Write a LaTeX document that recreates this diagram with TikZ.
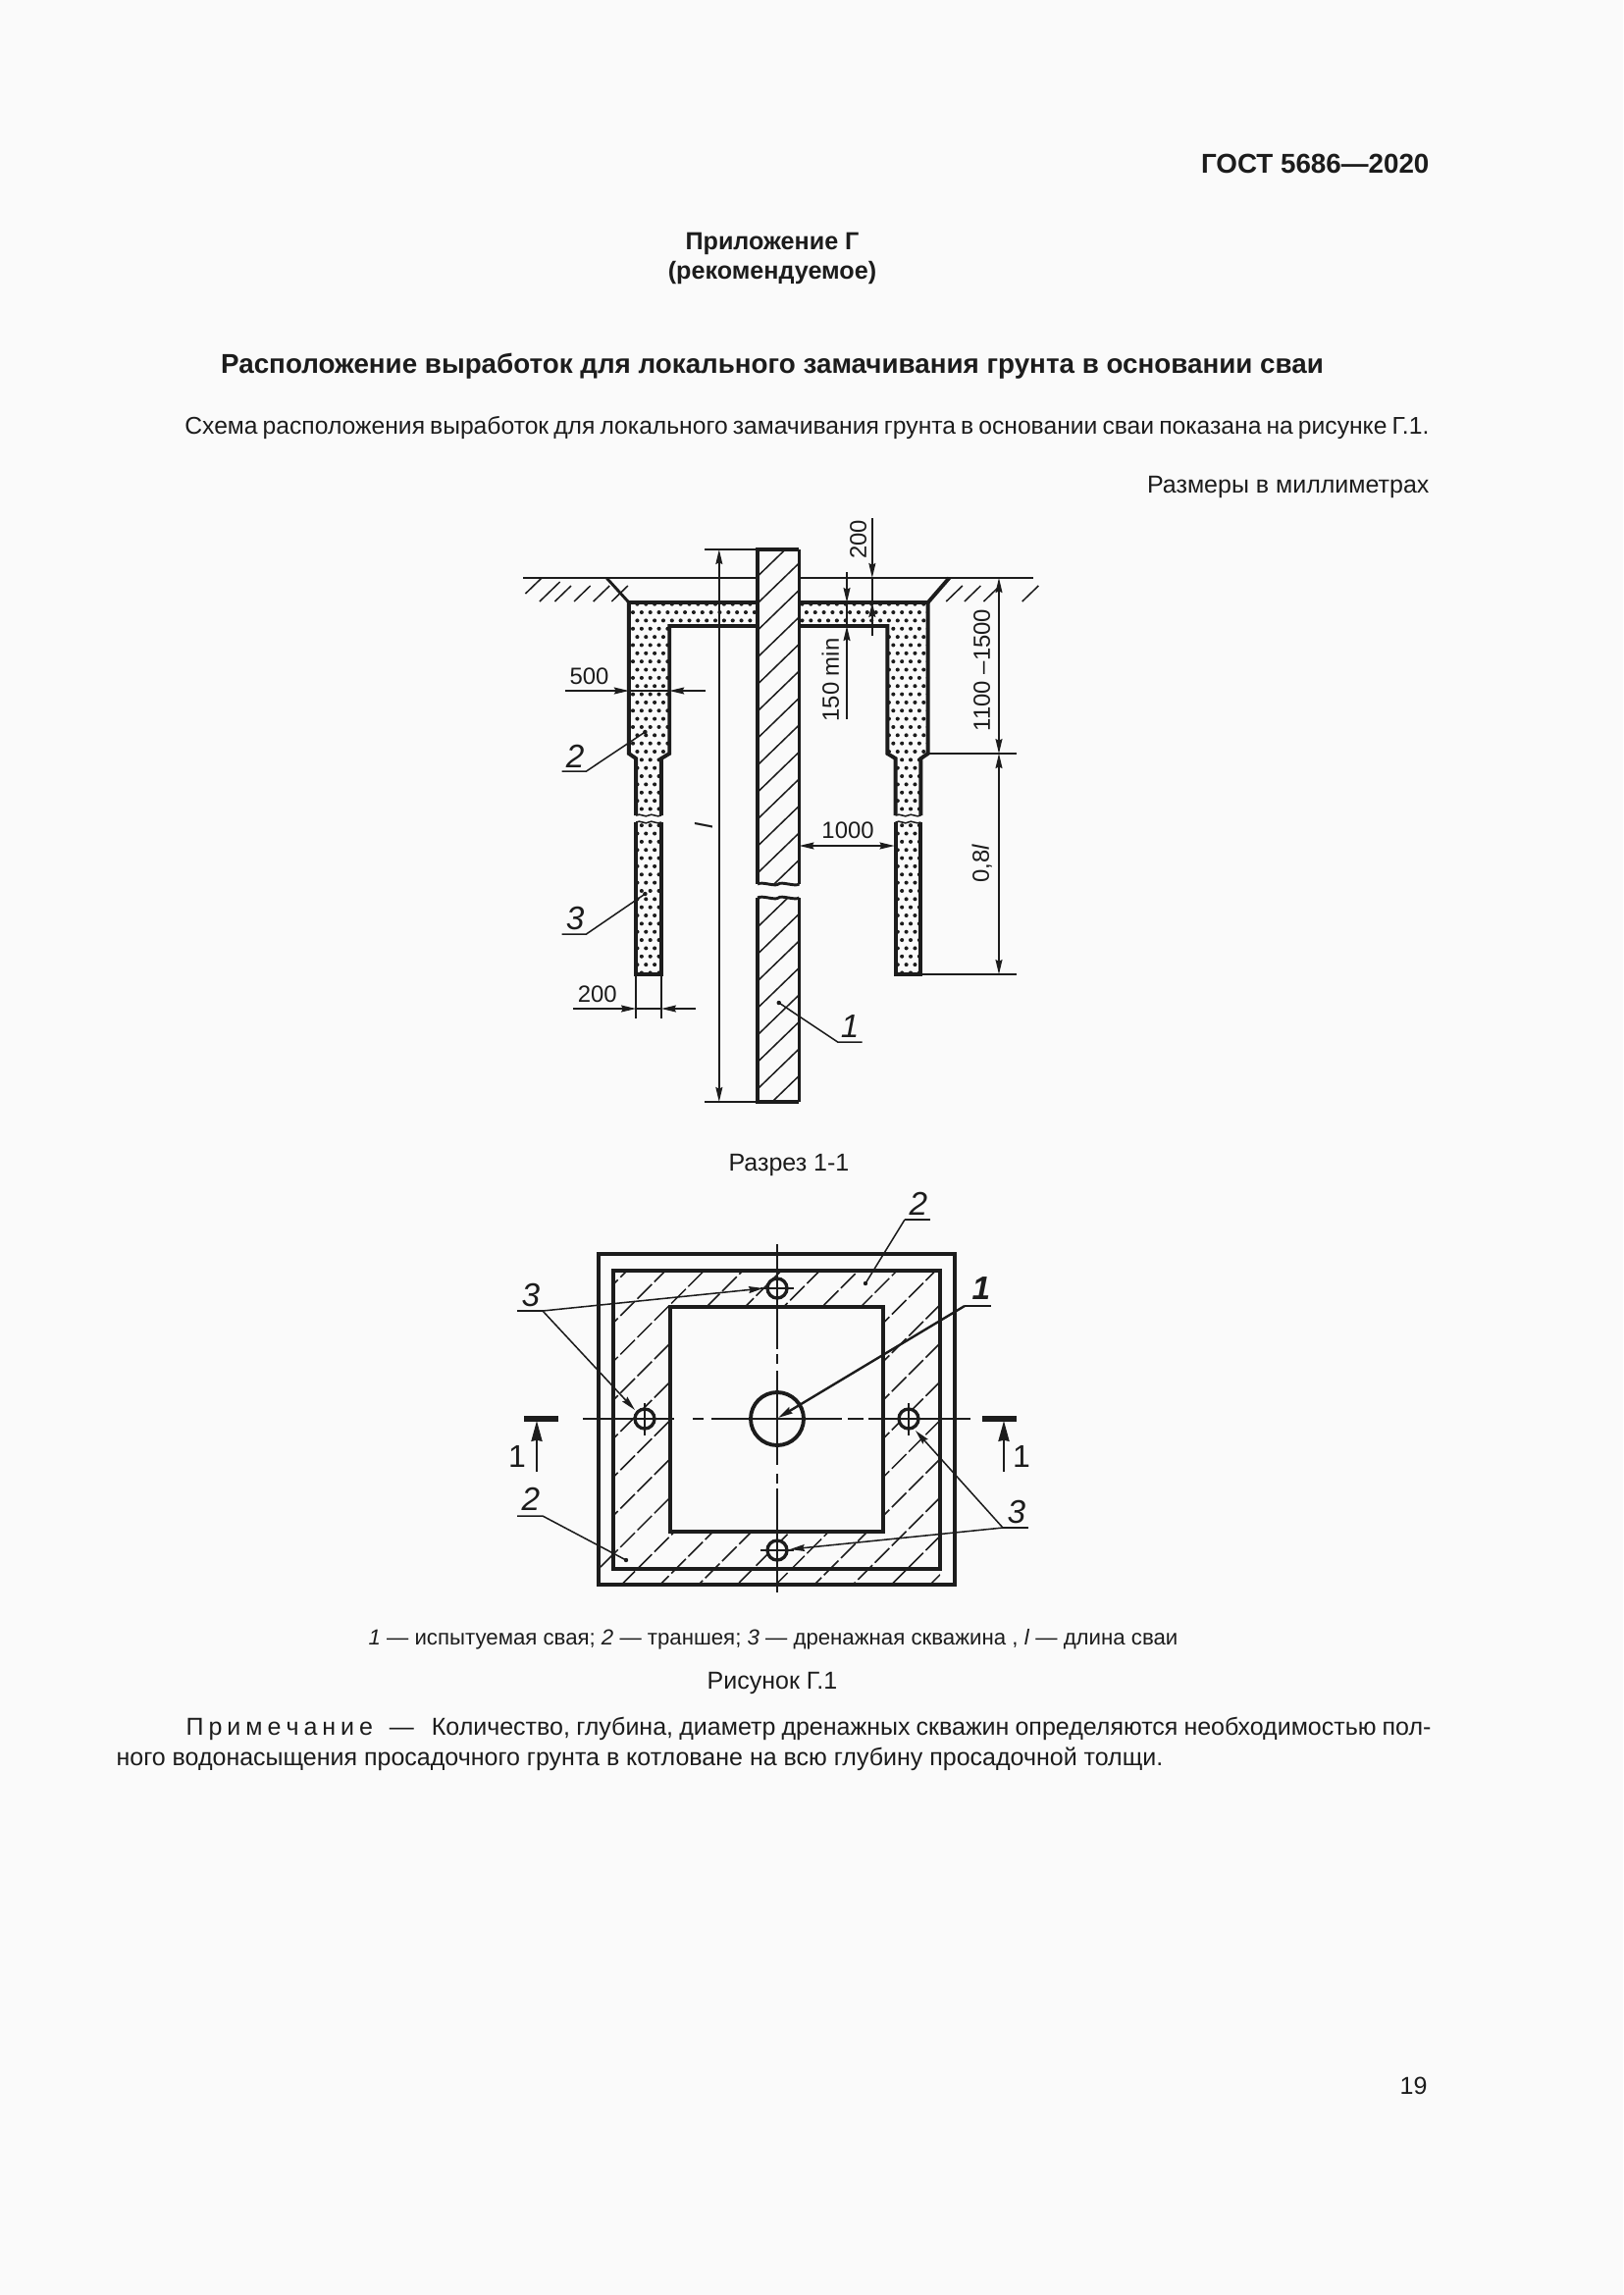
\documentclass[tikz,border=0pt]{standalone}
\usepackage{fontspec}
\setmainfont{Liberation Sans}
\usetikzlibrary{arrows.meta}
\definecolor{paper}{HTML}{FAFAFA}
\definecolor{ink}{HTML}{1C1C1C}
\tikzset{
  thickl/.style={line width=1.4pt,draw=ink,line join=miter},
  medl/.style={line width=1.05pt,draw=ink},
  thinl/.style={line width=0.55pt,draw=ink},
  dimtip/.style={-{Stealth[length=5.4pt,width=2.5pt,inset=0.6pt]}},
  dimboth/.style={{Stealth[length=5.4pt,width=2.5pt,inset=0.6pt]}-{Stealth[length=5.4pt,width=2.5pt,inset=0.6pt]}},
  dimtext/.style={font=\fontsize{8.6}{9}\selectfont,text=ink,inner sep=0pt,anchor=mid},
  numlabel/.style={font=\fontsize{12}{13}\itshape\selectfont,text=ink,inner sep=0pt},
  uplabel/.style={font=\fontsize{11.5}{13}\selectfont,text=ink,inner sep=0pt},
  body/.style={font=\fontsize{9}{11}\selectfont,text=ink,inner sep=0pt},
  bbody/.style={font=\fontsize{9.05}{11}\bfseries\selectfont,text=ink,inner sep=0pt},
  small/.style={font=\fontsize{8}{10}\selectfont,text=ink,inner sep=0pt},
  leaderdot/.style={fill=ink,draw=none},
  planhatch/.style={line width=0.55pt,draw=ink,dash pattern=on 7.5pt off 1.3pt},
  centerl/.style={line width=0.6pt,draw=ink},
}
\newcommand{\wvup}[3]{(#1,#3) .. controls ({#1+4},{#3-3}) and ({(#1+#2)/2-3},{#3+3}) .. ({(#1+#2)/2},{#3}) .. controls ({(#1+#2)/2+3},{#3-3}) and ({#2-4},{#3+3}) .. (#2,#3)}
\begin{document}
\begin{tikzpicture}[x=0.36pt,y=-0.36pt]
\useasboundingbox (0,0) rectangle (1654,2339);
\fill[paper] (0,0) rectangle (1654,2339);

% texts
\node[bbody,font=\fontsize{10}{12}\bfseries\selectfont,anchor=mid east] (gost) at (1457,169) {ГОСТ 5686—2020};
\node[bbody,anchor=mid] (app) at (787,247) {Приложение Г};
\node[bbody,anchor=mid] (rec) at (787,277) {(рекомендуемое)};
\node[bbody,font=\fontsize{10}{12}\bfseries\selectfont,anchor=mid] (head) at (787,373) {Расположение выработок для локального замачивания грунта в основании сваи};
\node[body,anchor=mid east,font=\fontsize{8.88}{11}\selectfont] (intro) at (1457,435) {\hbox to 456.5pt{Схема расположения выработок для локального замачивания грунта в основании сваи показана на рисунке Г.1.}};
\node[body,anchor=mid east] (units) at (1457,495) {Размеры в миллиметрах};
\node[body,anchor=mid] (sect) at (804,1186) {Разрез 1-1};
\node[small,anchor=mid] (legend) at (788,1669) {\textit{1} — испытуемая свая; \textit{2} — траншея; \textit{3} — дренажная скважина , \textit{l} — длина сваи};
\node[body,anchor=mid] (figc) at (787,1714) {Рисунок Г.1};
\node[body,anchor=mid west] (note1) at (189,1761) {\hbox to 456.8pt{П\kern1.8pt р\kern1.8pt и\kern1.8pt м\kern1.8pt е\kern1.8pt ч\kern1.8pt а\kern1.8pt н\kern1.8pt и\kern1.8pt е\kern6pt —\kern6.5pt Количество, глубина, диаметр дренажных скважин определяются необходимостью пол-}};
\node[body,anchor=mid west] (note2) at (118,1792) {ного водонасыщения просадочного грунта в котловане на всю глубину просадочной толщи.};
\node[body,anchor=mid east] (pg) at (1455,2127) {19};

% ---------- section (horizontal stretch about x=520)
\begin{scope}[x=0.37195pt,xshift=-6.215pt]
\begin{scope}
\clip (637,614) -- (932,614) -- (932,768) -- (925,773) -- (925,831) -- (900,831) -- (900,773) -- (892,768) -- (892,638) -- (677,638) -- (677,768) -- (669,773) -- (669,831) -- (644,831) -- (644,773) -- (637,768) -- cycle
 (644,838) rectangle (669,993) (900,838) rectangle (925,993);
\foreach \r in {0,...,45}{
  \pgfmathsetmacro{\yy}{615.7+8.35*\r}
  \pgfmathsetmacro{\xo}{641+4.28*mod(\r+1,2)}
  \foreach \c in {0,...,34}{
    \fill[ink] ({\xo+8.56*\c},\yy) circle (2);
  }
}
\end{scope}

% ground
\draw[medl] (533,589) -- (764,589);
\draw[medl] (805,589) -- (1036,589);
\foreach \a/\b in {535/605,564/613,583/613,602/613,620/613,950/613,968/613,987/613,1025/613}{
  \draw[thinl] (\a,\b) -- ++(16,-16);
}
\draw[thinl] (549,613) -- ++(20,-20);
\draw[medl] (615,589) -- (637,614);
\draw[thickl] (932,614) -- (953,589);

% trench outline
\draw[thickl] (764,614) -- (637,614) -- (637,768) -- (644,773) -- (644,831);
\draw[thickl] (764,638) -- (677,638) -- (677,768) -- (669,773) -- (669,831);
\draw[thickl] (805,614) -- (932,614) -- (932,768) -- (925,773) -- (925,831);
\draw[thickl] (805,638) -- (892,638) -- (892,768) -- (900,773) -- (900,831);
\draw[thickl] (644,838) -- (644,993) -- (669,993) -- (669,838);
\draw[thickl] (900,838) -- (900,993) -- (925,993) -- (925,838);
\draw[thinl] \wvup{644}{669}{831};
\draw[thinl] \wvup{644}{669}{838};
\draw[thinl] \wvup{900}{925}{831};
\draw[thinl] \wvup{900}{925}{838};

% pile
\fill[paper] (764,560) rectangle (805,901);
\fill[paper] (764,915) rectangle (805,1123);
\begin{scope}
\clip (764,560) rectangle (805,901) (764,915) rectangle (805,1123);
\foreach \k in {-1,...,20}{
  \pgfmathsetmacro{\s}{1351.3+27.5*\k}
  \draw[thinl] (764,{\s-764}) -- (805,{\s-805});
}
\end{scope}
\draw[thickl] (764,901) -- (764,560) -- (805,560);
\draw[medl] (805,560) -- (805,901);
\draw[thickl] (764,915) -- (764,1123) -- (805,1123);
\draw[medl] (805,915) -- (805,1123);
\draw[medl] \wvup{764}{805}{901};
\draw[medl] \wvup{764}{805}{915};

% dimensions
\draw[medl] (712,560) -- (764,560);
\draw[thinl] (712,1123) -- (764,1123);
\draw[thinl,dimtip] (726,842) -- (726,560);
\draw[thinl,dimtip] (726,842) -- (726,1123);
\node[dimtext,font=\fontsize{9}{9}\itshape\selectfont,rotate=90] (dl) at (713,842) {l};

\draw[thinl,dimtip] (574,704) -- (637,704);
\draw[thinl,dimtip] (713,704) -- (677,704);
\draw[thinl] (637,704) -- (677,704);
\node[dimtext] (d500) at (598,690) {500};

\draw[thinl,dimtip] (877,528) -- (877,589);
\draw[thinl,dimtip] (877,648) -- (877,614);
\draw[thinl] (877,589) -- (877,614);
\node[dimtext,rotate=90] (d200t) at (864,550) {200};

\draw[thinl,dimtip] (852,583) -- (852,614);
\draw[thinl,dimtip] (852,733) -- (852,638);
\draw[thinl] (852,614) -- (852,638);
\node[dimtext,rotate=90] (d150) at (837,693) {150 min};

\draw[thinl,dimboth] (1002,589) -- (1002,768);
\draw[thinl] (932,768) -- (1019,768);
\node[dimtext,rotate=90] (d1100) at (986,683) {1100 –1500};
\draw[thinl,dimboth] (1002,768) -- (1002,993);
\draw[thinl] (925,993) -- (1019,993);
\node[dimtext,rotate=90] (d08) at (985,880) {0,8\textit{l}};

\draw[thinl,dimboth] (805,862) -- (899,862);
\node[dimtext] (d1000) at (853,847) {1000};

\draw[thinl] (644,993) -- (644,1038) (669,993) -- (669,1038);
\draw[thinl,dimtip] (582,1028) -- (644,1028);
\draw[thinl,dimtip] (703,1028) -- (669,1028);
\draw[thinl] (644,1028) -- (669,1028);
\node[dimtext] (d200b) at (606,1014) {200};

% section leaders
\fill[leaderdot] (653,746) circle (2.2);
\draw[thinl] (653,746) -- (595,786) -- (571,786);
\node[numlabel] (l2a) at (584,771) {2};
\fill[leaderdot] (653,911) circle (2.2);
\draw[thinl] (653,911) -- (595,952) -- (571,952);
\node[numlabel] (l3a) at (584,936) {3};
\fill[leaderdot] (785,1022) circle (2.2);
\draw[thinl] (785,1022) -- (843,1062) -- (867,1062);
\node[numlabel] (l1a) at (855,1046) {1};
\end{scope}

% ---------- plan
\begin{scope}
\clip (625,1295) rectangle (958,1615);
\foreach \k in {0,...,16}{
  \pgfmathsetmacro{\s}{1934+39.3*\k}
  \draw[planhatch] (615,{\s-615}) -- (973,{\s-973});
}
\end{scope}
\draw[thinl] (612,1597) -- (625,1584);
\fill[paper] (683,1332) rectangle (900,1561);
\draw[thickl] (610,1278) rectangle (973,1615);
\draw[thickl] (625,1295) rectangle (958,1599);
\draw[thickl] (683,1332) rectangle (900,1561);

\draw[centerl] (594,1446) -- (687,1446) (706,1446) -- (717,1446) (725,1446) -- (858,1446) (864,1446) -- (880,1446) (885,1446) -- (989,1446);
\draw[centerl] (792,1268) -- (792,1375) (792,1380) -- (792,1390) (792,1397) -- (792,1493) (792,1502) -- (792,1512) (792,1517) -- (792,1623);

\draw[thickl] (792,1446) circle (27);
\foreach \n/\x/\y in {cT/792/1313,cB/792/1580,cL/657/1446,cR/926/1446}{
  \fill[paper] (\x,\y) circle (10);
  \draw[line width=1.2pt,draw=ink] (\x,\y) circle (10) coordinate (\n);
}
\draw[thinl] (792,1296) -- (792,1330) (775,1313) -- (809,1313);
\draw[thinl] (792,1563) -- (792,1597) (775,1580) -- (809,1580);
\draw[thinl] (657,1430) -- (657,1463) (640,1446) -- (674,1446);
\draw[thinl] (926,1430) -- (926,1463) (909,1446) -- (943,1446);

% plan leaders
\draw[thinl] (527,1336) -- (553,1336);
\draw[thinl,dimtip] (553,1336) -- (778,1313);
\draw[thinl,dimtip] (553,1336) -- (647,1437);
\node[numlabel] (l3b) at (541,1320) {3};
\draw[thinl] (527,1545) -- (553,1545) -- (638,1590);
\fill[leaderdot] (638,1590) circle (2.2);
\node[numlabel] (l2b) at (541,1528) {2};
\draw[thinl] (922,1243) -- (948,1243);
\draw[thinl] (922,1243) -- (882,1308);
\fill[leaderdot] (882,1308) circle (2.2);
\node[numlabel] (l2c) at (936,1227) {2};
\draw[thinl] (983,1331) -- (1010,1331);
\draw[line width=0.85pt,draw=ink,dimtip] (983,1331) -- (793,1445);
\node[numlabel,font=\fontsize{12}{13}\bfseries\itshape\selectfont] (l1b) at (1000,1313) {1};
\draw[thinl] (1022,1557) -- (1048,1557);
\draw[thinl,dimtip] (1022,1557) -- (933,1458);
\draw[thinl,dimtip] (1022,1557) -- (805,1579);
\node[numlabel] (l3c) at (1036,1541) {3};

% section marks
\draw[line width=2.1pt,draw=ink] (534,1446) -- (569,1446);
\draw[line width=0.7pt,draw=ink,-{Stealth[length=7.5pt,width=4pt,inset=0.4pt]}] (547,1500) -- (547,1448);
\node[uplabel] (s1l) at (527,1484) {1};
\draw[line width=2.1pt,draw=ink] (1001,1446) -- (1036,1446);
\draw[line width=0.7pt,draw=ink,-{Stealth[length=7.5pt,width=4pt,inset=0.4pt]}] (1023,1500) -- (1023,1448);
\node[uplabel] (s1r) at (1041,1484) {1};
\end{tikzpicture}
\end{document}
